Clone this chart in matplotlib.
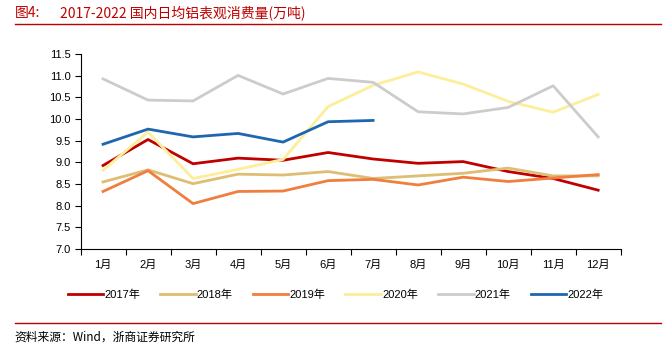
import matplotlib
matplotlib.use('Agg')
import matplotlib.pyplot as plt
import numpy as np

plt.rcParams['font.family'] = ['Liberation Sans', 'Noto Sans CJK SC']

months = ['1月', '2月', '3月', '4月', '5月', '6月', '7月', '8月', '9月', '10月', '11月', '12月']
v2017 = [8.93, 9.53, 8.97, 9.10, 9.05, 9.23, 9.08, 8.98, 9.02, 8.79, 8.63, 8.36]
v2018 = [8.55, 8.83, 8.51, 8.73, 8.71, 8.79, 8.63, 8.69, 8.75, 8.87, 8.69, 8.69]
v2019 = [8.33, 8.81, 8.05, 8.33, 8.34, 8.58, 8.61, 8.48, 8.66, 8.56, 8.64, 8.72]
v2020 = [8.82, 9.70, 8.63, 8.84, 9.07, 10.29, 10.78, 11.09, 10.81, 10.41, 10.16, 10.57]
v2021 = [10.93, 10.44, 10.42, 11.01, 10.58, 10.94, 10.85, 10.17, 10.12, 10.27, 10.77, 9.59]
v2022 = [9.42, 9.77, 9.59, 9.67, 9.47, 9.94, 9.97]

series = [
    ('2017年', v2017, '#C00000'),
    ('2018年', v2018, '#DDBE72'),
    ('2019年', v2019, '#F07E3E'),
    ('2020年', v2020, '#FCEE9A'),
    ('2021年', v2021, '#CCCCCC'),
    ('2022年', v2022, '#1F66B0'),
]

fig = plt.figure(figsize=(6.71, 3.45), dpi=100)
ax = fig.add_axes([0.120, 0.278, 0.805, 0.565])

x = np.arange(len(months))
for name, vals, color in series:
    ax.plot(x[:len(vals)], vals, color=color, linewidth=2.0, label=name)

ax.set_xlim(-0.5, 11.5)
ax.set_ylim(7.0, 11.5)
ax.set_yticks(np.arange(7.0, 11.51, 0.5))
ax.set_yticklabels(['%.1f' % v for v in np.arange(7.0, 11.51, 0.5)], fontsize=8)
ax.set_xticks(x)
ax.set_xticklabels(months, fontsize=8)
ax.set_xticks(np.arange(-0.5, 12, 1), minor=True)
ax.tick_params(axis='x', which='major', length=0, pad=8)
ax.tick_params(axis='x', which='minor', length=4, width=0.8)
ax.tick_params(axis='y', length=4, width=0.8, pad=3)
for s in ['top', 'right']:
    ax.spines[s].set_visible(False)
ax.spines['left'].set_linewidth(0.8)
ax.spines['bottom'].set_linewidth(0.8)

ax.legend(loc='center', bbox_to_anchor=(0.5, 0.145), bbox_transform=fig.transFigure,
          ncol=6, frameon=False, fontsize=8, handlelength=3.2, handletextpad=0.1,
          columnspacing=1.8)

# title and source
red = '#C00000'
fig.text(0.022, 0.962, '图4:', color=red, fontsize=10, va='center',
         family=['Noto Sans CJK SC'])
fig.text(0.09, 0.962, '2017-2022 国内日均铝表观消费量(万吨)', color=red, fontsize=10,
         va='center', family=['Noto Sans CJK SC'])
fig.add_artist(plt.Line2D([0.022, 0.985], [0.93, 0.93], color=red, linewidth=1.0,
                          transform=fig.transFigure))
fig.add_artist(plt.Line2D([0.022, 0.985], [0.063, 0.063], color=red, linewidth=1.0,
                          transform=fig.transFigure))
fig.text(0.022, 0.022, '资料来源：Wind，浙商证券研究所', fontsize=8.5, va='center',
         family=['Noto Sans CJK SC'])

fig.savefig('out.png', dpi=100)
